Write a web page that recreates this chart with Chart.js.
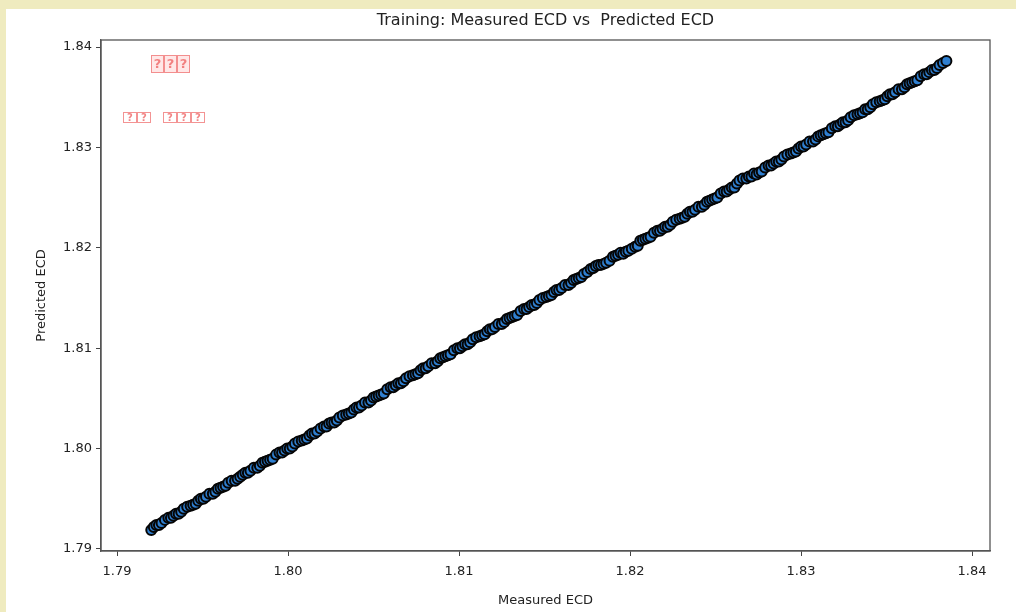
<!DOCTYPE html>
<html>
<head>
<meta charset="utf-8">
<script src="https://cdn.jsdelivr.net/npm/chart.js@4.4.1/dist/chart.umd.min.js"></script>
<style>
  html, body { margin: 0; padding: 0; background: #efebbf; }
  #wrap { position: relative; width: 1016px; height: 612px; overflow: hidden; }
  #paper { position: absolute; left: 6px; top: 9px; right: 0; bottom: 0; background: #fff; }
  #chart { position: absolute; left: 0; top: 0; }
</style>
</head>
<body>
<div id="wrap">
  <div id="paper"></div>
  <canvas id="chart" width="1016" height="612"></canvas>
</div>
<script>
const chartTitle = 'Training: Measured ECD vs  Predicted ECD';
const xLabel = 'Measured ECD';
const yLabel = 'Predicted ECD';
const xTicks = [1.79, 1.80, 1.81, 1.82, 1.83, 1.84];
const yTicks = [1.79, 1.80, 1.81, 1.82, 1.83, 1.84];

// training samples (two passes along the diagonal)
const measured = [
  1.7920,1.7923,1.7926,1.7930,1.7933,1.7936,1.7939,1.7943,1.7946,1.7949,
  1.7952,1.7956,1.7959,1.7962,1.7965,1.7969,1.7972,1.7975,1.7978,1.7982,
  1.7985,1.7988,1.7991,1.7995,1.7998,1.8001,1.8004,1.8008,1.8011,1.8014,
  1.8017,1.8021,1.8024,1.8027,1.8030,1.8034,1.8037,1.8040,1.8043,1.8047,
  1.8050,1.8053,1.8056,1.8060,1.8063,1.8066,1.8069,1.8073,1.8076,1.8079,
  1.8082,1.8086,1.8089,1.8092,1.8095,1.8099,1.8102,1.8105,1.8108,1.8112,
  1.8115,1.8118,1.8121,1.8125,1.8128,1.8131,1.8134,1.8138,1.8141,1.8144,
  1.8147,1.8151,1.8154,1.8157,1.8160,1.8164,1.8167,1.8170,1.8173,1.8177,
  1.8180,1.8183,1.8186,1.8190,1.8193,1.8196,1.8199,1.8203,1.8206,1.8209,
  1.8212,1.8216,1.8219,1.8222,1.8225,1.8229,1.8232,1.8235,1.8238,1.8242,
  1.8245,1.8248,1.8251,1.8255,1.8258,1.8261,1.8264,1.8268,1.8271,1.8274,
  1.8277,1.8281,1.8284,1.8287,1.8290,1.8294,1.8297,1.8300,1.8303,1.8307,
  1.8310,1.8313,1.8316,1.8320,1.8323,1.8326,1.8329,1.8333,1.8336,1.8339,
  1.8342,1.8346,1.8349,1.8352,1.8355,1.8359,1.8362,1.8365,1.8368,1.8372,
  1.8375,1.8378,1.8381,1.8385
];
const predicted = [
  1.7919,1.7924,1.7926,1.7931,1.7933,1.7935,1.7940,1.7943,1.7945,1.7950,
  1.7952,1.7955,1.7960,1.7962,1.7966,1.7968,1.7972,1.7976,1.7978,1.7981,
  1.7986,1.7988,1.7990,1.7996,1.7998,1.8000,1.8005,1.8008,1.8010,1.8015,
  1.8017,1.8022,1.8025,1.8026,1.8031,1.8034,1.8036,1.8041,1.8043,1.8046,
  1.8051,1.8053,1.8055,1.8061,1.8063,1.8065,1.8070,1.8073,1.8075,1.8080,
  1.8082,1.8085,1.8090,1.8092,1.8094,1.8100,1.8102,1.8104,1.8109,1.8112,
  1.8114,1.8119,1.8121,1.8124,1.8129,1.8131,1.8133,1.8139,1.8141,1.8143,
  1.8148,1.8151,1.8153,1.8158,1.8160,1.8163,1.8168,1.8170,1.8174,1.8179,
  1.8182,1.8183,1.8185,1.8191,1.8193,1.8194,1.8197,1.8201,1.8207,1.8209,
  1.8211,1.8217,1.8219,1.8221,1.8226,1.8229,1.8231,1.8236,1.8238,1.8241,
  1.8246,1.8248,1.8250,1.8256,1.8258,1.8260,1.8267,1.8269,1.8271,1.8273,
  1.8276,1.8282,1.8284,1.8286,1.8291,1.8294,1.8296,1.8301,1.8303,1.8306,
  1.8311,1.8313,1.8315,1.8321,1.8323,1.8325,1.8330,1.8333,1.8335,1.8338,
  1.8343,1.8346,1.8348,1.8353,1.8355,1.8358,1.8363,1.8365,1.8367,1.8373,
  1.8375,1.8377,1.8382,1.8386
];
const measured2 = [
  1.79215,1.79245,1.7928,1.79315,1.79345,1.79375,1.7941,1.79445,1.79475,1.79505,
  1.7954,1.79575,1.79605,1.79635,1.7967,1.79705,1.79735,1.79765,1.798,1.79835,
  1.79865,1.79895,1.7993,1.79965,1.79995,1.80025,1.8006,1.80095,1.80125,1.80155,
  1.8019,1.80225,1.80255,1.80285,1.8032,1.80355,1.80385,1.80415,1.8045,1.80485,
  1.80515,1.80545,1.8058,1.80615,1.80645,1.80675,1.8071,1.80745,1.80775,1.80805,
  1.8084,1.80875,1.80905,1.80935,1.8097,1.81005,1.81035,1.81065,1.811,1.81135,
  1.81165,1.81195,1.8123,1.81265,1.81295,1.81325,1.8136,1.81395,1.81425,1.81455,
  1.8149,1.81525,1.81555,1.81585,1.8162,1.81655,1.81685,1.81715,1.8175,1.81785,
  1.81815,1.81845,1.8188,1.81915,1.81945,1.81975,1.8201,1.82045,1.82075,1.82105,
  1.8214,1.82175,1.82205,1.82235,1.8227,1.82305,1.82335,1.82365,1.824,1.82435,
  1.82465,1.82495,1.8253,1.82565,1.82595,1.82625,1.8266,1.82695,1.82725,1.82755,
  1.8279,1.82825,1.82855,1.82885,1.8292,1.82955,1.82985,1.83015,1.8305,1.83085,
  1.83115,1.83145,1.8318,1.83215,1.83245,1.83275,1.8331,1.83345,1.83375,1.83405,
  1.8344,1.83475,1.83505,1.83535,1.8357,1.83605,1.83635,1.83665,1.837,1.83735,
  1.83765,1.83795,1.8383
];
const predicted2 = [
  1.7922,1.7924,1.7929,1.7931,1.7935,1.7937,1.7942,1.7944,1.7948,1.7950,
  1.7955,1.7957,1.7961,1.7963,1.7968,1.7970,1.7974,1.7976,1.7981,1.7983,
  1.7987,1.7989,1.7994,1.7996,1.8000,1.8002,1.8007,1.8009,1.8013,1.8015,
  1.8020,1.8022,1.8026,1.8028,1.8033,1.8035,1.8039,1.8041,1.8046,1.8048,
  1.8052,1.8054,1.8059,1.8061,1.8065,1.8067,1.8072,1.8074,1.8078,1.8080,
  1.8085,1.8087,1.8091,1.8093,1.8098,1.8100,1.8104,1.8106,1.8111,1.8113,
  1.8117,1.8119,1.8124,1.8126,1.8130,1.8132,1.8137,1.8139,1.8143,1.8145,
  1.8150,1.8152,1.8156,1.8158,1.8163,1.8165,1.8169,1.8171,1.8176,1.8180,
  1.8183,1.8184,1.8187,1.8192,1.8195,1.8196,1.8199,1.8202,1.8208,1.8210,
  1.8215,1.8217,1.8221,1.8223,1.8228,1.8230,1.8234,1.8236,1.8241,1.8243,
  1.8247,1.8249,1.8254,1.8256,1.8260,1.8264,1.8269,1.8271,1.8274,1.8275,
  1.8280,1.8282,1.8286,1.8288,1.8293,1.8295,1.8299,1.8301,1.8306,1.8308,
  1.8312,1.8314,1.8319,1.8321,1.8325,1.8327,1.8332,1.8334,1.8338,1.8340,
  1.8345,1.8347,1.8351,1.8353,1.8358,1.8360,1.8364,1.8366,1.8371,1.8373,
  1.8377,1.8379,1.8384
];

const points = measured.map((m, i) => ({ x: m, y: predicted[i] }))
  .concat(measured2.map((m, i) => ({ x: m, y: predicted2[i] })))
  .sort((a, b) => a.x - b.x);
const FONT = 'DejaVu Sans';

// frame, title and the two "missing glyph" annotations
const extras = {
  id: 'extras',
  afterDraw(chart) {
    const { ctx, chartArea: a } = chart;
    ctx.save();
    ctx.strokeStyle = '#555';
    ctx.lineWidth = 1.3;
    ctx.strokeRect(a.left, a.top, a.right - a.left, a.bottom - a.top);

    ctx.fillStyle = '#222';
    ctx.font = '16px "' + FONT + '"';
    ctx.textAlign = 'center';
    ctx.textBaseline = 'middle';
    ctx.fillText(chartTitle, (a.left + a.right) / 2, 21);

    // boxes with ? glyphs, like the unrendered CJK text
    ctx.lineWidth = 1;
    ctx.font = 'bold 13px "' + FONT + '"';
    const row1 = [151, 164, 177];
    row1.forEach(x => {
      ctx.fillStyle = 'rgba(255,215,215,0.6)';
      ctx.fillRect(x, 55, 13, 18);
      ctx.strokeStyle = 'rgba(240,120,120,0.8)';
      ctx.strokeRect(x + 0.5, 55.5, 12, 17);
      ctx.fillStyle = 'rgba(240,110,110,0.85)';
      ctx.fillText('?', x + 6.5, 65);
    });
    ctx.font = 'bold 10px "' + FONT + '"';
    const row2 = [123, 137, 163, 177, 191];
    row2.forEach(x => {
      ctx.strokeStyle = 'rgba(240,120,120,0.8)';
      ctx.strokeRect(x + 0.5, 112.5, 13, 10);
      ctx.fillStyle = 'rgba(240,110,110,0.85)';
      ctx.fillText('?', x + 7, 118);
    });
    ctx.restore();
  }
};

new Chart(document.getElementById('chart'), {
  type: 'scatter',
  data: {
    datasets: [{
      data: points,
      pointRadius: 5,
      pointBorderWidth: 2,
      pointBorderColor: '#050505',
      pointBackgroundColor: '#2f7fd0',
      pointHoverRadius: 5
    }]
  },
  options: {
    responsive: false,
    animation: false,
    layout: { padding: { top: 40, right: 26, left: 0, bottom: 0 } },
    plugins: {
      legend: { display: false },
      tooltip: { enabled: false }
    },
    scales: {
      x: {
        type: 'linear',
        min: 1.78906,
        max: 1.84105,
        afterFit: s => { s.height = 61; },
        afterBuildTicks: s => { s.ticks = xTicks.map(v => ({ value: v })); },
        grid: { drawOnChartArea: false, drawTicks: true, tickLength: 5, color: '#444' },
        border: { display: true, color: '#555', width: 1.3 },
        ticks: {
          color: '#222', padding: 8,
          font: { family: FONT, size: 13 },
          callback: v => v.toFixed(2)
        },
        title: {
          display: true, text: xLabel, color: '#222',
          font: { family: FONT, size: 13 }, padding: { top: 12 }
        }
      },
      y: {
        type: 'linear',
        min: 1.7898,
        max: 1.8407,
        afterFit: s => { s.width = 101; },
        afterBuildTicks: s => { s.ticks = yTicks.map(v => ({ value: v })); },
        grid: { drawOnChartArea: false, drawTicks: true, tickLength: 5, color: '#444' },
        border: { display: true, color: '#555', width: 1.3 },
        ticks: {
          color: '#222', padding: 4,
          font: { family: FONT, size: 13 },
          callback: v => v.toFixed(2)
        },
        title: {
          display: true, text: yLabel, color: '#222',
          font: { family: FONT, size: 13 }, padding: { top: 34 }
        }
      }
    }
  },
  plugins: [extras]
});
</script>
</body>
</html>
